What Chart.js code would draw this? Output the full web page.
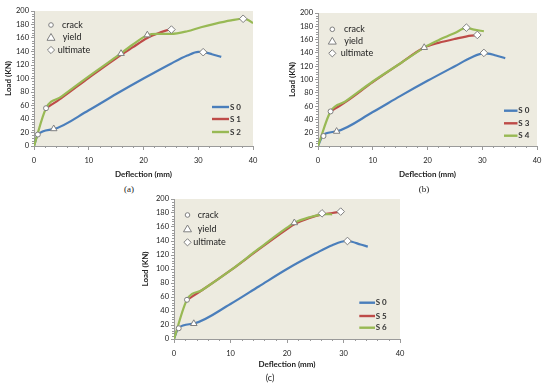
<!DOCTYPE html>
<html>
<head>
<meta charset="utf-8">
<script src="https://cdn.jsdelivr.net/npm/chart.js@4.4.1/dist/chart.umd.min.js"></script>
<style>
  body { margin: 0; background: #fff; width: 550px; height: 389px; position: relative; overflow: hidden; }
  canvas { position: absolute; }
  .cap { position: absolute; font: 9px "Liberation Serif", serif; color: #222; transform: translate(-50%, -50%); }
</style>
</head>
<body>
<canvas id="chartA" width="275" height="183" style="left:0;top:0"></canvas>
<canvas id="chartB" width="266" height="183" style="left:284px;top:0"></canvas>
<canvas id="chartC" width="283" height="185" style="left:137px;top:188px"></canvas>
<div class="cap" style="left:129px;top:189px">(a)</div>
<div class="cap" style="left:424px;top:189px">(b)</div>
<div class="cap" style="left:270px;top:377px;font-family:Lato,sans-serif">(c)</div>
<script>
// axis ranges
const xMin = 0, xMax = 40, xStep = 10;
const yMin = 0, yMax = 200, yStep = 20;

// panel (a)
const s0aX = [0, 0.7, 3.6, 10, 15, 20, 25, 28, 30, 31, 32.5, 34.2];
const s0aY = [0, 17, 25, 53, 77, 100, 122, 134, 139.5, 139, 136, 132];
const s1X = [2.2, 5, 10, 15, 18, 20.7, 23, 24.5, 25.1];
const s1Y = [56, 71, 101, 130, 146, 160, 168, 172, 172.5];
const s2X = [0, 2.2, 5, 10, 15, 18, 20.7, 22.5, 25, 28, 30.5, 33, 36, 38.2, 39, 40];
const s2Y = [0, 56, 73, 103, 132, 150, 164, 166, 166, 170, 176, 181, 186, 188.5, 187, 182];
const crackA = [[0.7, 17], [2.2, 56]];
const yieldA = [[3.6, 25.5], [15.9, 137], [20.7, 164.5]];
const ultA = [[30.9, 139], [25.1, 172.5], [38.2, 188.5]];

// panel (b)
const s0bX = [0, 1, 3.4, 10, 15, 20, 25, 28, 30, 31, 32.5, 34.2];
const s0bY = [0, 17, 22, 51, 75, 98, 120, 133, 139, 139, 136, 132];
const s3X = [2.3, 5, 10, 15, 19.4, 22, 25, 28, 29.1];
const s3Y = [52, 66, 96, 124, 148, 155, 161, 166, 166.5];
const s4X = [0, 2.3, 5, 10, 15, 19.4, 22, 25, 27.1, 28.5, 30.3];
const s4Y = [0, 52, 67, 97, 124, 148, 159, 170, 177.5, 175, 172.5];
const crackB = [[1, 15], [2.3, 52]];
const yieldB = [[3.4, 22], [19.4, 148]];
const ultB = [[30.3, 140], [27.1, 178], [29.1, 167]];

// panel (c)
const s0cX = [0, 0.8, 3.5, 10, 15, 20, 25, 28, 30.5, 31.5, 33, 34.3];
const s0cY = [0, 16, 22, 50, 75, 100, 122, 134, 140, 139, 135, 132];
const s5X = [2.3, 5, 10, 15, 20, 21.3, 24, 26.2, 28, 29.5];
const s5Y = [56, 70, 98, 128, 157, 164, 173, 178, 180, 182];
const s6X = [0, 2.3, 5, 10, 15, 20, 21.3, 24, 26.2, 27, 28];
const s6Y = [0, 56, 70, 98, 129, 159, 166, 174, 178, 178.5, 178];
const crackC = [[0.83, 15.3], [2.3, 56]];
const yieldC = [[3.5, 22], [21.3, 166]];
const ultC = [[30.7, 140], [26.2, 179.5], [29.5, 182]];

const markerLabels = ['crack', 'yield', 'ultimate'];
const blue = '#4A7EBB', red = '#BE4B48', green = '#98B954';
const axisGray = '#9a9a9a', txt = '#222';

const pts = (xs, ys) => xs.map((x, i) => ({ x, y: ys[i] }));
const pairs = arr => arr.map(p => ({ x: p[0], y: p[1] }));

function drawSymbol(ctx, kind, x, y) {
  ctx.beginPath();
  if (kind === 0) {
    ctx.arc(x, y, 2.3, 0, Math.PI * 2);
  } else if (kind === 1) {
    ctx.moveTo(x, y - 4); ctx.lineTo(x + 4, y + 2.8); ctx.lineTo(x - 4, y + 2.8); ctx.closePath();
  } else {
    ctx.moveTo(x, y - 3.6); ctx.lineTo(x + 3.6, y); ctx.lineTo(x, y + 3.6); ctx.lineTo(x - 3.6, y); ctx.closePath();
  }
  ctx.fill(); ctx.stroke();
}

const panelDeco = {
  id: 'panelDeco',
  beforeDraw(chart) {
    const { ctx, chartArea: a } = chart;
    ctx.save();
    ctx.fillStyle = '#EDEBE0';
    ctx.fillRect(a.left, a.top, a.right - a.left, a.bottom - a.top);
    ctx.restore();
  },
  afterDraw(chart, args, o) {
    const { ctx, chartArea: a, scales: { x, y } } = chart;
    ctx.save();
    // minor ticks
    ctx.strokeStyle = axisGray; ctx.lineWidth = 1;
    ctx.beginPath();
    for (let v = 2; v < xMax; v += 2) {
      if (v % xStep === 0) continue;
      const px = Math.round(x.getPixelForValue(v)) + 0.5;
      ctx.moveTo(px, a.bottom); ctx.lineTo(px, a.bottom + 2);
    }
    for (let v = 4; v < yMax; v += 4) {
      if (v % yStep === 0) continue;
      const py = Math.round(y.getPixelForValue(v)) + 0.5;
      ctx.moveTo(a.left - 2, py); ctx.lineTo(a.left, py);
    }
    ctx.stroke();

    // marker legend (top left)
    ctx.font = '9px Lato, sans-serif';
    ctx.textBaseline = 'middle';
    ctx.textAlign = 'left';
    markerLabels.forEach((lab, i) => {
      const yy = a.top + o.mk.rows[i];
      ctx.fillStyle = '#fff'; ctx.strokeStyle = '#808080'; ctx.lineWidth = 1;
      drawSymbol(ctx, i, a.left + o.mk.sx, yy);
      ctx.fillStyle = txt;
      ctx.fillText(lab, a.left + o.mk.tx[i], yy);
    });

    // series legend (bottom right)
    ctx.font = 'bold 8px Lato, sans-serif';
    o.series.forEach((s, i) => {
      const yy = a.bottom + o.ln.rows[i];
      ctx.strokeStyle = s.color; ctx.lineWidth = 2.4;
      ctx.beginPath();
      ctx.moveTo(a.right + o.ln.x0, yy); ctx.lineTo(a.right + o.ln.x1, yy);
      ctx.stroke();
      ctx.fillStyle = '#333';
      ctx.fillText(s.label, a.right + o.ln.tx, yy);
    });
    ctx.restore();
  }
};

function makePanel(id, lines, crack, yld, ult, lay, mk, ln) {
  const lineSets = lines.map(l => ({
    label: l.label, data: l.data, borderColor: l.color, borderWidth: 2.2,
    pointRadius: 0, cubicInterpolationMode: 'monotone', fill: false
  }));
  const mark = (data, style, r) => ({
    data, showLine: false, pointStyle: style, pointRadius: r,
    pointBackgroundColor: '#fff', pointBorderColor: '#808080', pointBorderWidth: 1
  });
  new Chart(document.getElementById(id), {
    type: 'line',
    data: {
      datasets: [
        mark(pairs(crack), 'circle', 2.5),
        mark(pairs(yld), 'triangle', 3.8),
        mark(pairs(ult), 'rectRot', 3.8),
        ...lineSets.reverse()
      ]
    },
    options: {
      responsive: false,
      animation: false,
      layout: { padding: { top: lay.pt, right: lay.pr, left: 0, bottom: 0 } },
      plugins: {
        legend: { display: false },
        tooltip: { enabled: false },
        panelDeco: { mk, ln, series: lines }
      },
      scales: {
        x: {
          type: 'linear', min: xMin, max: xMax,
          ticks: { stepSize: xStep, color: txt, font: { family: 'Lato', size: 7.5 }, padding: 6, maxRotation: 0 },
          grid: { drawOnChartArea: false, tickLength: 4, color: axisGray },
          border: { color: axisGray },
          title: { display: true, text: 'Deflection (mm)', color: txt, font: { family: 'Lato', size: 8, weight: 'bold' }, padding: { top: 0, bottom: 4 } },
          afterFit(s) { s.height = lay.xh; }
        },
        y: {
          min: yMin, max: yMax,
          ticks: { stepSize: yStep, color: txt, font: { family: 'Lato', size: 7.5 }, padding: 2 },
          grid: { drawOnChartArea: false, tickLength: 3, color: axisGray },
          border: { color: axisGray },
          title: { display: true, text: 'Load (KN)', color: txt, font: { family: 'Lato', size: 8, weight: 'bold' }, padding: { top: 4, bottom: 0 } },
          afterFit(s) { s.width = lay.yw; }
        }
      }
    },
    plugins: [panelDeco]
  });
}

makePanel('chartA',
  [{ label: 'S 0', data: pts(s0aX, s0aY), color: blue },
   { label: 'S 1', data: pts(s1X, s1Y), color: red },
   { label: 'S 2', data: pts(s2X, s2Y), color: green }],
  crackA, yieldA, ultA,
  { pt: 11, pr: 22, xh: 37, yw: 34 },
  { sx: 17, rows: [14, 26.5, 39], tx: [28, 28.7, 23.7] },
  { x0: -41, x1: -24, tx: -23, rows: [-39, -27, -14] });

makePanel('chartB',
  [{ label: 'S 0', data: pts(s0bX, s0bY), color: blue },
   { label: 'S 3', data: pts(s3X, s3Y), color: red },
   { label: 'S 4', data: pts(s4X, s4Y), color: green }],
  crackB, yieldB, ultB,
  { pt: 13, pr: 13, xh: 37, yw: 34 },
  { sx: 14.3, rows: [16.3, 28.3, 40.3], tx: [26, 26.3, 22.7] },
  { x0: -33, x1: -19.5, tx: -18.7, rows: [-35.3, -22.7, -10.3] });

makePanel('chartC',
  [{ label: 'S 0', data: pts(s0cX, s0cY), color: blue },
   { label: 'S 5', data: pts(s5X, s5Y), color: red },
   { label: 'S 6', data: pts(s6X, s6Y), color: green }],
  crackC, yieldC, ultC,
  { pt: 11, pr: 20, xh: 34, yw: 37 },
  { sx: 13.5, rows: [16, 30, 43.3], tx: [23.7, 23.7, 19.3] },
  { x0: -40.7, x1: -25, tx: -24.3, rows: [-36.3, -23, -11.3] });
</script>
</body>
</html>
